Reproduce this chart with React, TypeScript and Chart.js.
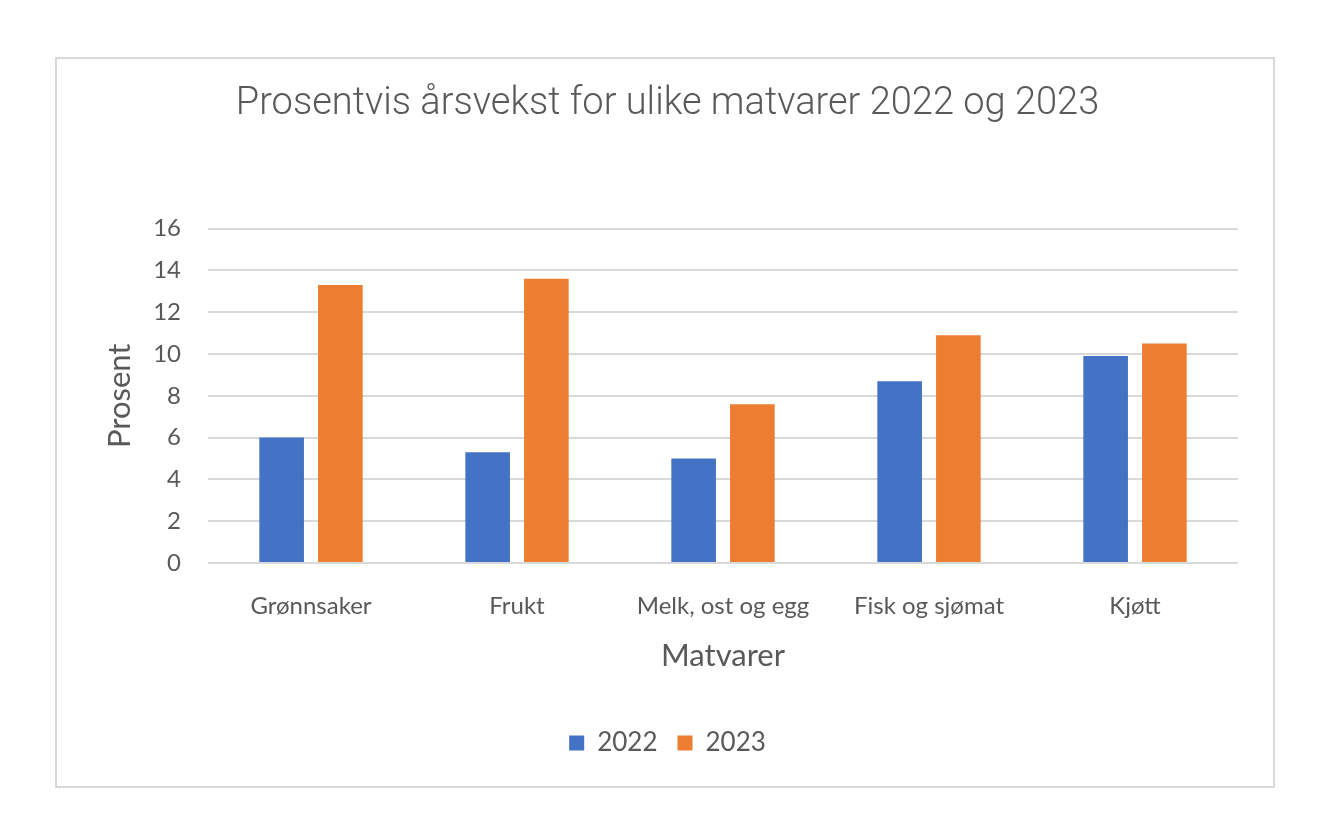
import { useEffect, useRef } from "react"
import { Chart, registerables } from "chart.js"

Chart.register(...registerables)

const categories = ["Grønnsaker", "Frukt", "Melk, ost og egg", "Fisk og sjømat", "Kjøtt"]
const values2022 = [6.0, 5.3, 5.0, 8.7, 9.9]
const values2023 = [13.3, 13.6, 7.6, 10.9, 10.5]
const seriesLabels = ["2022", "2023"]

const textColor = "#595959"
const gridColor = "#d9d9d9"

export default function App() {
  const chartRef = useRef<HTMLCanvasElement>(null)
  const chartInstance = useRef<Chart | null>(null)

  useEffect(() => {
    if (!chartRef.current) return
    if (chartInstance.current) chartInstance.current.destroy()

    const ctx = chartRef.current.getContext("2d")
    if (!ctx) return

    chartInstance.current = new Chart(ctx, {
      type: "bar",
      data: {
        labels: categories,
        datasets: [
          {
            label: seriesLabels[0],
            data: values2022,
            backgroundColor: "#4472C4",
            categoryPercentage: 0.57,
            barPercentage: 0.76,
          },
          {
            label: seriesLabels[1],
            data: values2023,
            backgroundColor: "#ED7D31",
            categoryPercentage: 0.57,
            barPercentage: 0.76,
          },
        ],
      },
      options: {
        animation: false,
        responsive: true,
        maintainAspectRatio: false,
        layout: {
          padding: { left: 40, right: 35, top: 0, bottom: 20 },
        },
        plugins: {
          title: {
            display: true,
            text: "Prosentvis årsvekst for ulike matvarer 2022 og 2023",
            color: textColor,
            font: { family: "Roboto", size: 38, weight: 300 },
            padding: { top: 23, bottom: 101 },
          },
          legend: {
            position: "bottom",
            labels: {
              color: textColor,
              font: { family: "Lato", size: 26 },
              boxWidth: 15,
              boxHeight: 15,
              padding: 20,
            },
          },
          tooltip: { enabled: false },
        },
        scales: {
          x: {
            grid: { display: false, drawTicks: false },
            border: { display: false },
            ticks: {
              color: textColor,
              font: { family: "Lato", size: 24 },
              padding: 29,
              maxRotation: 0,
              autoSkip: false,
            },
            title: {
              display: true,
              text: "Matvarer",
              color: textColor,
              font: { family: "Lato", size: 31 },
              // tick padding is counted twice in the axis height, so pull the title up
              padding: { top: -12, bottom: 35 },
            },
          },
          y: {
            min: 0,
            max: 16,
            ticks: {
              stepSize: 2,
              color: textColor,
              font: { family: "Lato", size: 24 },
              padding: 27,
            },
            grid: { color: gridColor, lineWidth: 2, drawTicks: false },
            border: { display: false },
            title: {
              display: true,
              text: "Prosent",
              color: textColor,
              font: { family: "Lato", size: 31 },
              padding: { top: 4, bottom: 0 },
            },
            afterFit: (scale) => {
              scale.width = 111
            },
          },
        },
      },
    })

    return () => {
      if (chartInstance.current) {
        chartInstance.current.destroy()
        chartInstance.current = null
      }
    }
  }, [])

  return (
    <div style={{ position: "absolute", left: 0, top: 0, width: 1331, height: 830, background: "#fff" }}>
      <div
        style={{
          position: "absolute",
          left: 55,
          top: 57,
          width: 1220,
          height: 731,
          boxSizing: "border-box",
          border: "2px solid #d9d9d9",
        }}
      >
        <canvas ref={chartRef} />
      </div>
    </div>
  )
}
